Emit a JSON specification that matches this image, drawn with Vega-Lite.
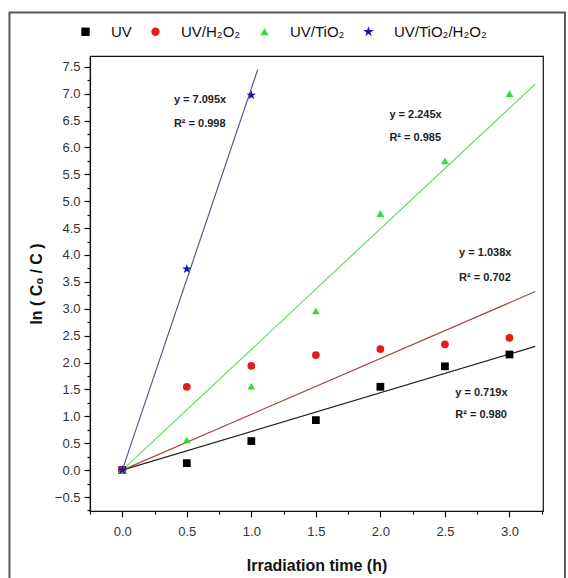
{
  "$schema": "https://vega.github.io/schema/vega-lite/v6.json",
  "width": 453,
  "height": 455,
  "autosize": {"type": "none"},
  "padding": {"left": 90, "top": 56, "right": 25, "bottom": 67},
  "background": "white",
  "config": {
    "view": {"stroke": "#111", "strokeWidth": 1.2},
    "font": "Liberation Sans",
    "axis": {"domainColor": "#111", "tickColor": "#111", "labelColor": "#333", "labelFontSize": 13, "titleFontSize": 16, "titleFontWeight": "bold", "titleColor": "#111", "grid": false, "domainWidth": 1.2, "tickWidth": 1.2}
  },
  "datasets": {
    "obs": [
      {"series": "UV", "t": 0, "v": 0}, {"series": "UV", "t": 0.5, "v": 0.13}, {"series": "UV", "t": 1, "v": 0.54}, {"series": "UV", "t": 1.5, "v": 0.93}, {"series": "UV", "t": 2, "v": 1.55}, {"series": "UV", "t": 2.5, "v": 1.93}, {"series": "UV", "t": 3, "v": 2.15},
      {"series": "UV/H₂O₂", "t": 0, "v": 0}, {"series": "UV/H₂O₂", "t": 0.5, "v": 1.55}, {"series": "UV/H₂O₂", "t": 1, "v": 1.94}, {"series": "UV/H₂O₂", "t": 1.5, "v": 2.14}, {"series": "UV/H₂O₂", "t": 2, "v": 2.25}, {"series": "UV/H₂O₂", "t": 2.5, "v": 2.34}, {"series": "UV/H₂O₂", "t": 3, "v": 2.46},
      {"series": "UV/TiO₂", "t": 0, "v": 0}, {"series": "UV/TiO₂", "t": 0.5, "v": 0.56}, {"series": "UV/TiO₂", "t": 1, "v": 1.56}, {"series": "UV/TiO₂", "t": 1.5, "v": 2.96}, {"series": "UV/TiO₂", "t": 2, "v": 4.77}, {"series": "UV/TiO₂", "t": 2.5, "v": 5.75}, {"series": "UV/TiO₂", "t": 3, "v": 7.0},
      {"series": "UV/TiO₂/H₂O₂", "t": 0, "v": 0}, {"series": "UV/TiO₂/H₂O₂", "t": 0.5, "v": 3.74}, {"series": "UV/TiO₂/H₂O₂", "t": 1, "v": 6.97}
    ],
    "fit": [
      {"curve": "UV", "t": 0, "v": 0}, {"curve": "UV", "t": 3.2, "v": 2.3},
      {"curve": "UV/H₂O₂", "t": 0, "v": 0}, {"curve": "UV/H₂O₂", "t": 3.2, "v": 3.32},
      {"curve": "UV/TiO₂", "t": 0, "v": 0}, {"curve": "UV/TiO₂", "t": 3.2, "v": 7.18},
      {"curve": "UV/TiO₂/H₂O₂", "t": 0, "v": 0}, {"curve": "UV/TiO₂/H₂O₂", "t": 1.05, "v": 7.45}
    ],
    "notes": [
      {"t": 0.4, "v": 6.89, "label": "y = 7.095x"}, {"t": 0.4, "v": 6.44, "label": "R² = 0.998"},
      {"t": 2.07, "v": 6.61, "label": "y = 2.245x"}, {"t": 2.07, "v": 6.18, "label": "R² = 0.985"},
      {"t": 2.61, "v": 4.04, "label": "y = 1.038x"}, {"t": 2.61, "v": 3.58, "label": "R² = 0.702"},
      {"t": 2.58, "v": 1.43, "label": "y = 0.719x"}, {"t": 2.58, "v": 1.02, "label": "R² = 0.980"}
    ],
    "frame": [{"x1": -0.874, "x2": 3.43, "y1": 8.51, "y2": -2.3}]
  },
  "encoding": {
    "x": {"field": "t", "type": "quantitative", "scale": {"domain": [-0.25, 3.26], "zero": false, "nice": false},
      "title": "Irradiation time (h)",
      "axis": {"values": [-0.25, 0, 0.25, 0.5, 0.75, 1, 1.25, 1.5, 1.75, 2, 2.25, 2.5, 2.75, 3, 3.25], "format": ".1f", "labelExpr": "abs(datum.value * 2 - round(datum.value * 2)) < 0.001 ? datum.label : ''", "tickSize": {"condition": {"test": "abs(datum.value * 2 - round(datum.value * 2)) < 0.001", "value": 6}, "value": 3}, "labelPadding": 8, "titlePadding": 19}},
    "y": {"field": "v", "type": "quantitative", "scale": {"domain": [-0.76, 7.7], "zero": false, "nice": false},
      "title": "ln ( Cₒ / C )",
      "axis": {"values": [-0.75, -0.5, -0.25, 0, 0.25, 0.5, 0.75, 1, 1.25, 1.5, 1.75, 2, 2.25, 2.5, 2.75, 3, 3.25, 3.5, 3.75, 4, 4.25, 4.5, 4.75, 5, 5.25, 5.5, 5.75, 6, 6.25, 6.5, 6.75, 7, 7.25, 7.5], "format": ".1f", "labelExpr": "abs(datum.value * 2 - round(datum.value * 2)) < 0.001 ? datum.label : ''", "tickSize": {"condition": {"test": "abs(datum.value * 2 - round(datum.value * 2)) < 0.001", "value": 6}, "value": 3}, "labelPadding": 4, "titlePadding": 10}}
  },
  "layer": [
    {
      "data": {"name": "frame"},
      "mark": {"type": "rect", "fill": null, "stroke": "#555", "strokeWidth": 2, "clip": false},
      "encoding": {
        "x": {"field": "x1", "type": "quantitative"},
        "x2": {"field": "x2"},
        "y": {"field": "y1", "type": "quantitative"},
        "y2": {"field": "y2"}
      }
    },
    {
      "data": {"name": "fit"},
      "transform": [{"filter": "datum.curve === 'UV'"}],
      "mark": {"type": "line", "strokeWidth": 1.2, "color": "#222222"},
      "encoding": {}
    },
    {
      "data": {"name": "fit"},
      "transform": [{"filter": "datum.curve === 'UV/H₂O₂'"}],
      "mark": {"type": "line", "strokeWidth": 1.2, "color": "#a84848"},
      "encoding": {}
    },
    {
      "data": {"name": "fit"},
      "transform": [{"filter": "datum.curve === 'UV/TiO₂'"}],
      "mark": {"type": "line", "strokeWidth": 1.2, "color": "#66dd66"},
      "encoding": {}
    },
    {
      "data": {"name": "fit"},
      "transform": [{"filter": "datum.curve === 'UV/TiO₂/H₂O₂'"}],
      "mark": {"type": "line", "strokeWidth": 1.2, "color": "#5a5a8c"},
      "encoding": {}
    },
    {
      "data": {"name": "obs"},
      "mark": {"type": "point", "filled": true, "size": 60, "opacity": 1},
      "encoding": {
        "color": {"field": "series", "type": "nominal", "title": null,
          "scale": {"domain": ["UV", "UV/H₂O₂", "UV/TiO₂", "UV/TiO₂/H₂O₂"], "range": ["#000000", "#e51c1c", "#33dd33", "#1414a8"]},
          "legend": {"orient": "none", "legendX": -12, "legendY": -32, "direction": "horizontal", "labelFontSize": 15, "labelColor": "#111", "symbolSize": 70, "columnPadding": 16, "labelOffset": 18}},
        "shape": {"field": "series", "type": "nominal", "title": null,
          "scale": {"domain": ["UV", "UV/H₂O₂", "UV/TiO₂", "UV/TiO₂/H₂O₂"], "range": ["square", "circle", "triangle-up", "M0,-1.3L0.292,-0.402L1.236,-0.402L0.472,0.153L0.764,1.052L0,0.497L-0.764,1.052L-0.472,0.153L-1.236,-0.402L-0.292,-0.402Z"]},
          "legend": {"orient": "none", "legendX": -12, "legendY": -32, "direction": "horizontal", "labelFontSize": 15, "labelColor": "#111", "symbolSize": 70, "columnPadding": 16, "labelOffset": 18}}
      }
    },
    {
      "data": {"name": "notes"},
      "mark": {"type": "text", "align": "left", "baseline": "middle", "fontSize": 11, "fontWeight": "bold", "color": "#222"},
      "encoding": {
        "text": {"field": "label"}
      }
    }
  ]
}
